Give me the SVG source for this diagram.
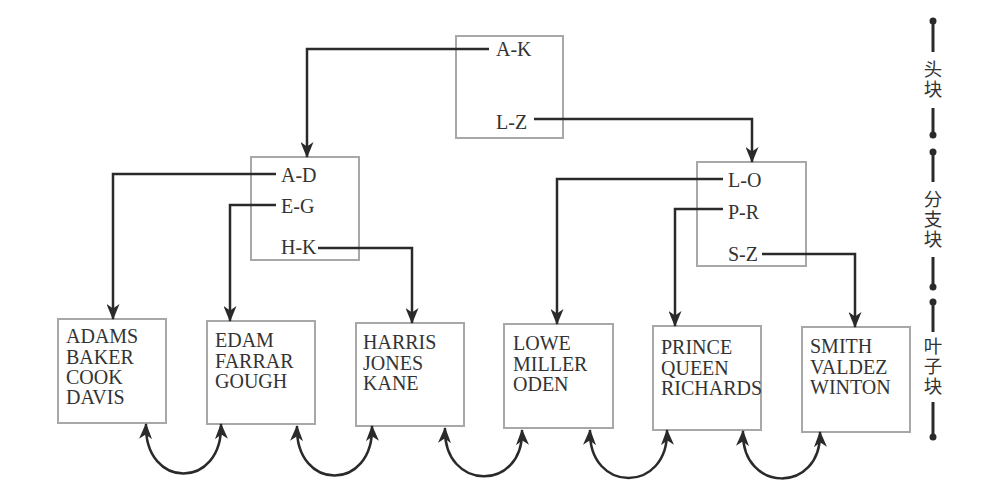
<svg xmlns="http://www.w3.org/2000/svg" width="995" height="495" viewBox="0 0 995 495">
<defs>
<marker id="ah" viewBox="0 0 16 13" refX="15" refY="6.5" markerWidth="16" markerHeight="13" markerUnits="userSpaceOnUse" orient="auto-start-reverse">
<path d="M0,0 L16,6.5 L0,13 L4.5,6.5 z" fill="#2a2a2a"/>
</marker>
<style>
.box{fill:#fff;stroke:#a8a8a8;stroke-width:2}
.t{font-family:"Liberation Serif","Times New Roman",serif;font-size:20px;fill:#333}
.cn{font-family:"Noto Sans CJK SC","Noto Sans CJK JP",sans-serif;font-size:18.5px;fill:#333;text-anchor:middle;writing-mode:vertical-rl;letter-spacing:1.5px}
.arr{fill:none;stroke:#2a2a2a;stroke-width:2.5;marker-end:url(#ah)}
.dbl{fill:none;stroke:#2a2a2a;stroke-width:2.5;marker-start:url(#ah);marker-end:url(#ah)}
.sc{stroke:#2a2a2a;stroke-width:3}
.dot{fill:#2a2a2a}
</style>
</defs>
<rect width="995" height="495" fill="#fff"/>

<g id="head">
<rect class="box" x="456" y="36" width="107" height="102"/>
<text class="t" x="496" y="56">A-K</text>
<text class="t" x="496" y="129">L-Z</text>
</g>

<g id="branch-left">
<rect class="box" x="251" y="157" width="108" height="103"/>
<text class="t" x="281" y="182">A-D</text>
<text class="t" x="281" y="213">E-G</text>
<text class="t" x="281" y="254">H-K</text>
</g>

<g id="branch-right">
<rect class="box" x="697" y="162" width="109" height="104"/>
<text class="t" x="728" y="187">L-O</text>
<text class="t" x="728" y="219">P-R</text>
<text class="t" x="728" y="261">S-Z</text>
</g>

<g id="leaf1">
<rect class="box" x="58" y="319" width="108" height="104"/>
<text class="t" x="66" y="343">ADAMS</text>
<text class="t" x="66" y="364">BAKER</text>
<text class="t" x="66" y="384">COOK</text>
<text class="t" x="66" y="404">DAVIS</text>
</g>
<g id="leaf2">
<rect class="box" x="207" y="321" width="108" height="103"/>
<text class="t" x="215" y="347">EDAM</text>
<text class="t" x="215" y="368">FARRAR</text>
<text class="t" x="215" y="388">GOUGH</text>
</g>
<g id="leaf3">
<rect class="box" x="356" y="323" width="108" height="103"/>
<text class="t" x="363" y="349">HARRIS</text>
<text class="t" x="363" y="370">JONES</text>
<text class="t" x="363" y="390">KANE</text>
</g>
<g id="leaf4">
<rect class="box" x="504" y="324" width="109" height="104"/>
<text class="t" x="513" y="350">LOWE</text>
<text class="t" x="513" y="371">MILLER</text>
<text class="t" x="513" y="391">ODEN</text>
</g>
<g id="leaf5">
<rect class="box" x="653" y="326" width="108" height="104"/>
<text class="t" x="661" y="354">PRINCE</text>
<text class="t" x="661" y="375">QUEEN</text>
<text class="t" x="661" y="395">RICHARDS</text>
</g>
<g id="leaf6">
<rect class="box" x="802" y="327" width="108" height="105"/>
<text class="t" x="810" y="353">SMITH</text>
<text class="t" x="810" y="374">VALDEZ</text>
<text class="t" x="810" y="394">WINTON</text>
</g>

<g id="connectors">
<path class="arr" d="M489,49 H307 V157"/>
<path class="arr" d="M534,119 H752 V162"/>
<path class="arr" d="M276,174 H113 V319"/>
<path class="arr" d="M276,205 H230 V321"/>
<path class="arr" d="M318,248 H412 V323"/>
<path class="arr" d="M723,179 H557 V324"/>
<path class="arr" d="M723,209 H675 V326"/>
<path class="arr" d="M762,254 H855 V327"/>
<path class="dbl" d="M146,424 C144,490 223,490 221,424"/>
<path class="dbl" d="M297,426 C295,492 374,492 372,426"/>
<path class="dbl" d="M445,428 C443,492 524,492 522,430"/>
<path class="dbl" d="M590,430 C588,494 669,494 667,430"/>
<path class="dbl" d="M743,431 C741,494 822,494 820,432"/>
</g>

<g id="scale">
<circle class="dot" cx="933" cy="21" r="3.5"/>
<line class="sc" x1="933" y1="21" x2="933" y2="52"/>
<text class="cn" x="933" y="80">头块</text>
<line class="sc" x1="933" y1="108" x2="933" y2="135"/>
<circle class="dot" cx="933" cy="135" r="3.5"/>

<circle class="dot" cx="933" cy="152" r="3.5"/>
<line class="sc" x1="933" y1="152" x2="933" y2="182"/>
<text class="cn" x="933" y="220">分支块</text>
<line class="sc" x1="933" y1="257" x2="933" y2="287"/>
<circle class="dot" cx="933" cy="287" r="3.5"/>

<circle class="dot" cx="933" cy="302" r="3.5"/>
<line class="sc" x1="933" y1="302" x2="933" y2="332"/>
<text class="cn" x="933" y="367">叶子块</text>
<line class="sc" x1="933" y1="402" x2="933" y2="437"/>
<circle class="dot" cx="933" cy="437" r="3.5"/>
</g>
</svg>
